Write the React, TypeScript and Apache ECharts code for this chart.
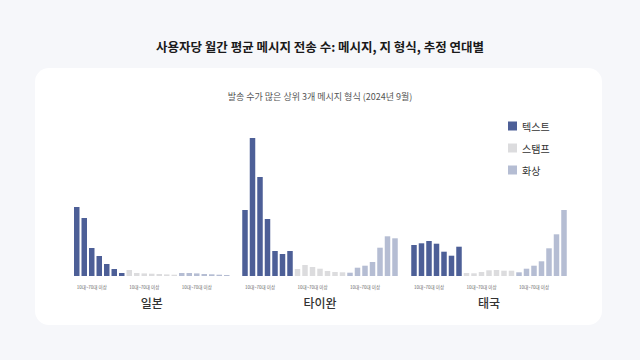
import React, { useEffect, useRef } from "react";
import * as echarts from "echarts";

const countries = ["일본", "타이완", "태국"];
const ages = ["10대", "20대", "30대", "40대", "50대", "60대", "70대 이상"];
const types = ["텍스트", "스탬프", "화상"];
const groupLabel = "10대~70대 이상";

// values per country, per message type, per age group
const japanText = [69, 58, 28, 20, 12, 7, 3];
const japanSticker = [6, 3, 2.6, 2.3, 2, 1.6, 1.3];
const japanImage = [3, 3, 2.6, 2, 1.7, 1.3, 1];
const taiwanText = [66, 138, 99, 57, 25, 22, 25];
const taiwanSticker = [7, 11, 9, 7.3, 5, 4, 3.7];
const taiwanImage = [3.3, 8.3, 10.3, 14, 28.3, 39.7, 37.7];
const thaiText = [31, 32.7, 35, 32.3, 24.3, 20.3, 29.3];
const thaiSticker = [3, 2.7, 4, 5.7, 6, 5.3, 5.3];
const thaiImage = [3.7, 7.3, 10.3, 14.7, 27.7, 41.7, 66];

const countryData = [
  [japanText, japanSticker, japanImage],
  [taiwanText, taiwanSticker, taiwanImage],
  [thaiText, thaiSticker, thaiImage],
];

const colors = ["#4d5f97", "#dcdcde", "#b5bdd3"];

export default function App() {
  const ref = useRef<HTMLDivElement>(null);
  useEffect(() => {
    if (!ref.current) return;
    const chart = echarts.init(ref.current, null, { renderer: "svg" });
    const font = "'Noto Sans CJK KR', 'Noto Sans', sans-serif";
    const cats: string[] = [];
    types.forEach((t) => ages.forEach((a) => cats.push(t + " " + a)));
    const gridLefts = [73, 241.25, 410.25];
    const gridWidth = 157.5;
    const grids = gridLefts.map((l) => ({ left: l, width: gridWidth, top: 136, bottom: 84 }));
    const xAxes = countries.map((c, i) => ({
      type: "category",
      gridIndex: i,
      data: cats,
      name: c,
      nameLocation: "middle",
      nameGap: 20,
      nameTextStyle: { fontSize: 12, color: "#333", fontFamily: font, fontWeight: 500 },
      axisLine: { show: false },
      axisTick: { show: false },
      axisLabel: {
        interval: 0,
        fontSize: 4.5,
        color: "#666",
        fontFamily: font,
        margin: 9,
        formatter: (_v: string, idx: number) => (idx % 7 === 2 ? groupLabel : ""),
      },
    }));
    const yAxes = countries.map((_c, i) => ({
      type: "value",
      gridIndex: i,
      min: 0,
      max: 140,
      show: false,
      splitLine: { show: false },
    }));
    const series: any[] = [];
    countries.forEach((_c, ci) => {
      types.forEach((t, ti) => {
        const data: (number | null)[] = new Array(21).fill(null);
        countryData[ci][ti].forEach((v, ai) => {
          data[ti * 7 + ai] = v;
        });
        series.push({
          type: "bar",
          name: t,
          xAxisIndex: ci,
          yAxisIndex: ci,
          data,
          barWidth: 5.5,
          barGap: "-100%",
          itemStyle: { color: colors[ti] },
        });
      });
    });
    chart.setOption({
      animation: false,
      backgroundColor: "#f6f7fa",
      textStyle: { fontFamily: font },
      title: [
        {
          text: "사용자당 월간 평균 메시지 전송 수: 메시지, 지 형식, 추정 연대별",
          left: "center",
          top: 35,
          textStyle: { fontSize: 12.5, fontWeight: "bold", color: "#1a1a1a", fontFamily: font },
        },
        {
          text: "발송 수가 많은 상위 3개 메시지 형식 (2024년 9월)",
          left: "center",
          top: 87,
          textStyle: { fontSize: 9, fontWeight: "normal", color: "#555", fontFamily: font },
        },
      ],
      graphic: [
        {
          type: "rect",
          z: -10,
          shape: { x: 35, y: 68, width: 567, height: 257, r: 14 },
          style: { fill: "#ffffff" },
        },
      ],
      legend: {
        data: types,
        orient: "vertical",
        left: 508,
        top: 121,
        padding: 0,
        itemWidth: 9,
        itemHeight: 9,
        itemGap: 12,
        icon: "rect",
        textStyle: { fontSize: 10, color: "#333", fontFamily: font },
      },
      grid: grids,
      xAxis: xAxes,
      yAxis: yAxes,
      series,
    });
    return () => chart.dispose();
  }, []);
  return (
    <div
      ref={ref}
      style={{ position: "fixed", left: 0, top: 0, width: 640, height: 360 }}
    />
  );
}
